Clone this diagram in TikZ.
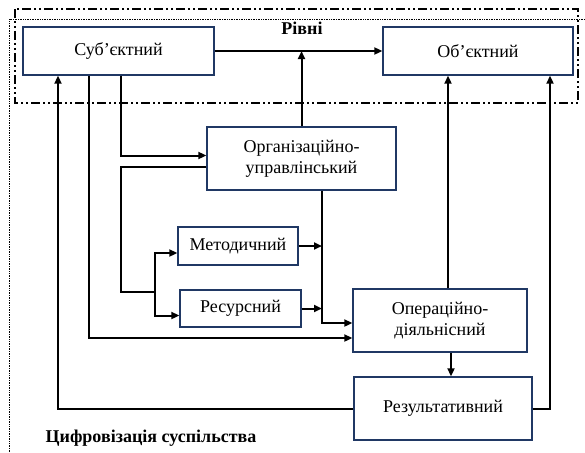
\documentclass[tikz,border=0pt]{standalone}
\usepackage{fontspec}
\setmainfont{Liberation Serif}
\usepackage{tikz}
\usetikzlibrary{positioning}
\usetikzlibrary{arrows.meta}
\usepackage{xcolor}
\definecolor{boxblue}{HTML}{203864}

\begin{document}
\begin{tikzpicture}[x=1pt, y=-1pt,
		levelnode/.style={rectangle, draw=boxblue, fill=white, line width=1.4pt, align=center, inner sep=0pt, font=\fontsize{18}{21}\selectfont},
		link/.style={line width=2pt, line join=miter},
		arr/.style={link, -{Triangle[length=8pt,width=7pt]}},
		]
		\useasboundingbox (0,0) rectangle (585,452);
		
		%Frames
		\draw[line width=1.6pt, dash pattern=on 9pt off 3pt on 2pt off 3pt on 2pt off 3pt] (15,9) rectangle (578,103);
		\draw[densely dotted, line width=0.7pt] (9,452) -- (9,19) -- (585,19);
		
		%Nodes
		\node[levelnode, minimum width=191pt, minimum height=48pt] (subj)   at (118.5,51)  {Суб’єктний};
		\node[levelnode, minimum width=190pt, minimum height=48pt] (obj)    at (478,51)    {Об’єктний};
		\node[levelnode, minimum width=189pt, minimum height=63pt] (org)    at (301.5,158.5) {Організаційно-\\управлінський};
		\node[levelnode, minimum width=120pt, minimum height=38pt] (metod)  at (238,246)   {Методичний};
		\node[levelnode, minimum width=121pt, minimum height=37pt] (resurs) at (240.5,308.5) {Ресурсний};
		\node[levelnode, minimum width=174pt, minimum height=63pt] (oper)   at (440,320.5) {Операційно-\\діяльнісний};
		\node[levelnode, minimum width=178pt, minimum height=63pt] (rezult) at (443,408.5) {Результативний};
		\node[font=\fontsize{18}{21}\selectfont\bfseries] (levels) at (302,28)  {Рівні};
		\node[font=\fontsize{18}{21}\selectfont\bfseries] (digit)  at (151,438) {Цифровізація суспільства};
		
		\coordinate (bendL) at (121,292);
		\coordinate (split) at (155,292);
		\coordinate (bus)   at (322,0);
		
		%Lines
		\draw[arr] (subj.east) -- (obj.west);
		\draw[arr] (org.north) -- (org.north |- subj.east);
		\draw[arr] ([xshift=2.5pt]subj.south) |- ([yshift=3pt]org.west);
		\draw[link] ([yshift=-8.5pt]org.west) -| (bendL) -- (split);
		\draw[arr] (split) |- ([yshift=-7pt]metod.west);
		\draw[arr] (split) |- ([yshift=-7pt]resurs.west);
		\draw[arr] (metod.east) -- (metod.east -| bus);
		\draw[arr] (resurs.east) -- (resurs.east -| bus);
		\draw[arr] (org.south -| bus) |- ([yshift=-2.5pt]oper.west);
		\draw[arr] ([xshift=-29.5pt]subj.south) |- ([yshift=-17.5pt]oper.west);
		\draw[arr] ([xshift=8pt]oper.north) -- ([xshift=8pt]oper.north |- obj.south);
		\draw[arr] ([xshift=11pt]oper.south) -- ([xshift=11pt]oper.south |- rezult.north);
		\draw[arr] (rezult.east) -| ([xshift=72pt]obj.south);
		\draw[arr] (rezult.west) -| ([xshift=-60.5pt]subj.south);
	\end{tikzpicture}
\end{document}
